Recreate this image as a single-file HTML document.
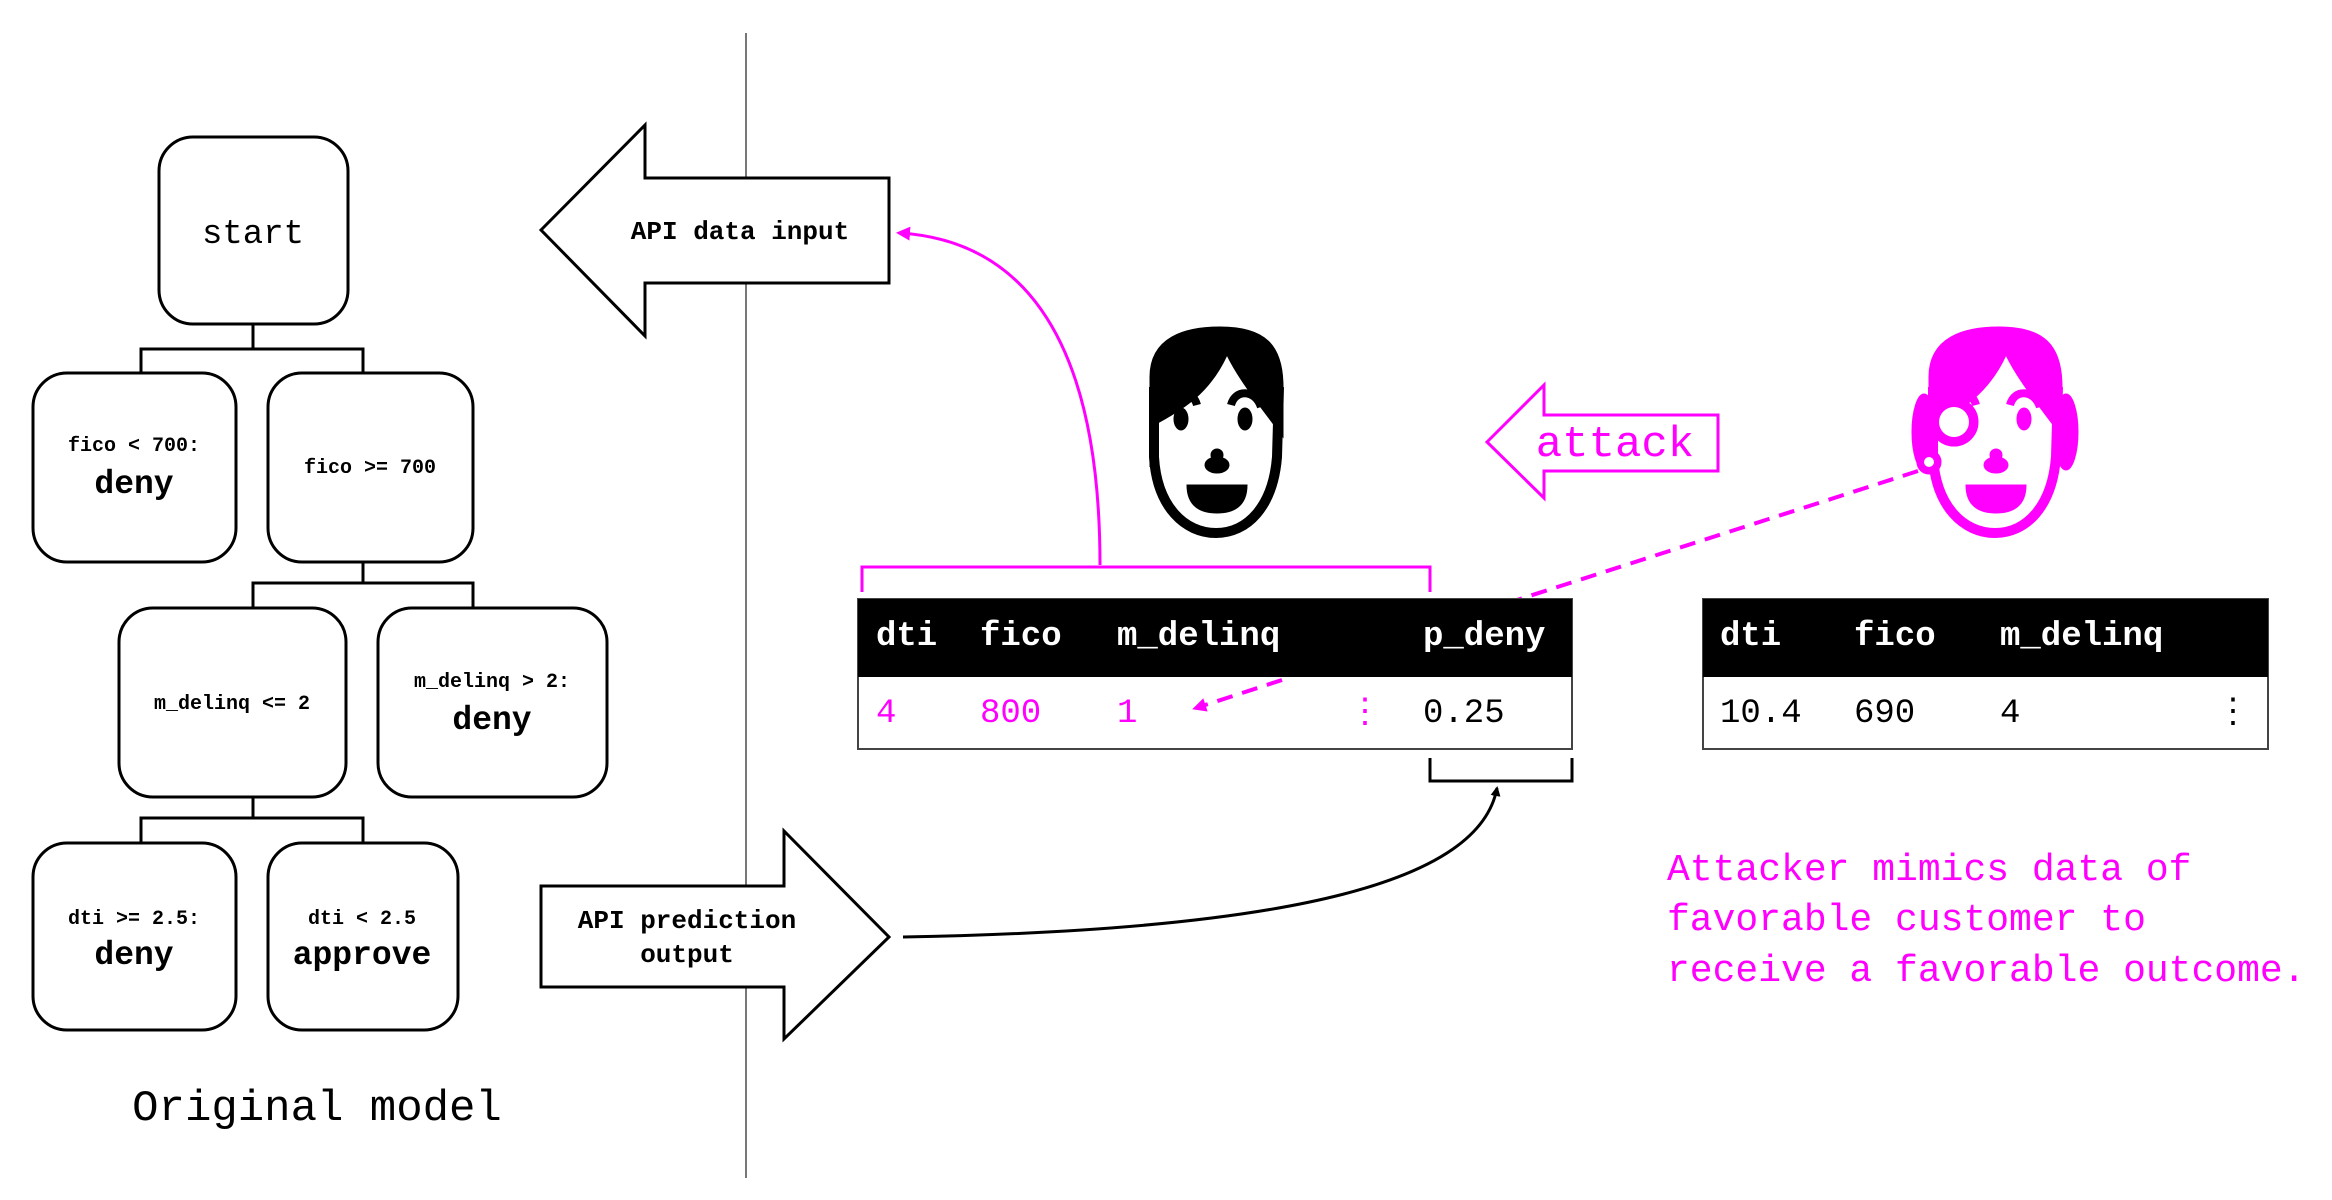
<!DOCTYPE html>
<html><head><meta charset="utf-8"><style>
html,body{margin:0;padding:0;background:#fff;width:2332px;height:1200px;overflow:hidden}
svg text{font-family:"Liberation Mono","DejaVu Sans Mono",monospace}
</style></head><body>
<svg width="2332" height="1200" viewBox="0 0 2332 1200" xmlns="http://www.w3.org/2000/svg">
<defs>
<marker id="ah" markerWidth="10" markerHeight="10" refX="8" refY="5" orient="auto" markerUnits="userSpaceOnUse" viewBox="0 0 10 10"><path d="M0,0 L10,5 L0,10 Z" fill="#000"/></marker>
<marker id="ahm" markerWidth="14" markerHeight="14" refX="10" refY="7" orient="auto" markerUnits="userSpaceOnUse" viewBox="0 0 14 14"><path d="M0,0 L14,7 L0,14 Z" fill="#f0f"/></marker>
<g id="face">
<path d="M5,140 L5,50 C5,10 40,0 75,0 C120,0 138,18 138,60 L138,110 C120,85 95,55 82,28 C65,65 40,82 5,100 Z"/>
<path d="M9,60 L9,130 C12,180 40,206 71,206 C102,206 128,180 132,130 L134,60" fill="none" stroke-width="10"/>
<path d="M22,80 C28,62 48,62 52,78" fill="none" stroke-width="8"/>
<path d="M86,78 C90,62 110,62 116,80" fill="none" stroke-width="8"/>
<ellipse cx="36" cy="92" rx="7" ry="11"/>
<ellipse cx="100" cy="92" rx="7" ry="11"/>
<ellipse cx="72" cy="138" rx="12" ry="8"/><circle cx="72" cy="128" r="6"/>
<path d="M42,158 L102,158 C102,178 90,186 72,186 C54,186 42,178 42,158 Z"/>
</g>
</defs>

<line x1="746" y1="33" x2="746" y2="1178" stroke="#777" stroke-width="2"/>

<g fill="#fff" stroke="#000" stroke-width="3">
<rect x="159" y="137" width="189" height="187" rx="34"/>
<rect x="33" y="373" width="203" height="189" rx="34"/>
<rect x="268" y="373" width="205" height="189" rx="34"/>
<rect x="119" y="608" width="227" height="189" rx="34"/>
<rect x="378" y="608" width="229" height="189" rx="34"/>
<rect x="33" y="843" width="203" height="187" rx="34"/>
<rect x="268" y="843" width="190" height="187" rx="34"/>
</g>
<g fill="none" stroke="#000" stroke-width="3">
<path d="M253,324 V349 M141,373 V349 H363 V373"/>
<path d="M363,562 V583 M253,608 V583 H473 V608"/>
<path d="M253,797 V818 M141,843 V818 H363 V843"/>
</g>
<g text-anchor="middle" font-weight="bold">
<text x="253" y="243" font-size="34" font-weight="normal">start</text>
<text x="134" y="451" font-size="20">fico &lt; 700:</text>
<text x="134" y="493" font-size="33">deny</text>
<text x="370" y="473" font-size="20">fico &gt;= 700</text>
<text x="232" y="709" font-size="20">m_delinq &lt;= 2</text>
<text x="492" y="687" font-size="20">m_delinq &gt; 2:</text>
<text x="492" y="729" font-size="33">deny</text>
<text x="134" y="924" font-size="20">dti &gt;= 2.5:</text>
<text x="134" y="964" font-size="33">deny</text>
<text x="362" y="924" font-size="20">dti &lt; 2.5</text>
<text x="362" y="964" font-size="33">approve</text>
</g>
<text x="317" y="1120" font-size="44" text-anchor="middle">Original model</text>

<path d="M541,230 L645,125 L645,178 L889,178 L889,283 L645,283 L645,336 Z" fill="#fff" stroke="#000" stroke-width="3"/>
<text x="740" y="239" font-size="26" font-weight="bold" text-anchor="middle">API data input</text>
<path d="M541,886 L784,886 L784,831 L889,937 L784,1039 L784,987 L541,987 Z" fill="#fff" stroke="#000" stroke-width="3"/>
<text x="687" y="928" font-size="26" font-weight="bold" text-anchor="middle">API prediction</text>
<text x="687" y="962" font-size="26" font-weight="bold" text-anchor="middle">output</text>

<path d="M1100,565 C1100,320 1010,240 900,233" fill="none" stroke="#f0f" stroke-width="3" marker-end="url(#ahm)"/>
<path d="M862,592 V567 H1430 V592" fill="none" stroke="#f0f" stroke-width="3"/>

<path d="M1487,442 L1544,385 L1544,415 L1718,415 L1718,471 L1544,471 L1544,498 Z" fill="#fff" stroke="#f0f" stroke-width="3"/>
<text x="1615" y="456" font-size="44" fill="#f0f" text-anchor="middle">attack</text>

<g transform="translate(1145,327)" fill="#000" stroke="#000"><use href="#face"/></g>
<g transform="translate(1924,327)" fill="#f0f" stroke="#f0f"><use href="#face"/>
<ellipse cx="0" cy="105" rx="12" ry="38"/><ellipse cx="142" cy="105" rx="12" ry="38"/>
<circle cx="30" cy="95" r="24" fill="#f0f"/><circle cx="30" cy="95" r="15" fill="#fff" stroke="none"/>
<circle cx="5" cy="135" r="12"/><circle cx="5" cy="135" r="5" fill="#fff" stroke="none"/>
</g>

<line x1="1918" y1="471" x2="1517" y2="600" stroke="#f0f" stroke-width="4" stroke-dasharray="16,10"/>

<rect x="858" y="599" width="714" height="150" fill="#fff" stroke="#444" stroke-width="2"/>
<rect x="858" y="599" width="714" height="78" fill="#000"/>
<g font-size="34" font-weight="bold" fill="#fff"><text x="876" y="645">dti</text><text x="980" y="645">fico</text><text x="1117" y="645">m_delinq</text><text x="1423" y="645">p_deny</text></g>
<g font-size="34" fill="#f0f"><text x="876" y="722">4</text><text x="980" y="722">800</text><text x="1117" y="722">1</text><text x="1348" y="722">⋮</text></g>
<text x="1423" y="722" font-size="34">0.25</text>
<line x1="1282" y1="680" x2="1196" y2="708" stroke="#f0f" stroke-width="4" stroke-dasharray="16,10" marker-end="url(#ahm)"/>

<rect x="1703" y="599" width="565" height="150" fill="#fff" stroke="#444" stroke-width="2"/>
<rect x="1703" y="599" width="565" height="78" fill="#000"/>
<g font-size="34" font-weight="bold" fill="#fff"><text x="1720" y="645">dti</text><text x="1854" y="645">fico</text><text x="2000" y="645">m_delinq</text></g>
<g font-size="34"><text x="1720" y="722">10.4</text><text x="1854" y="722">690</text><text x="2000" y="722">4</text><text x="2216" y="722">⋮</text></g>

<path d="M1430,758 V781 H1572 V758" fill="none" stroke="#000" stroke-width="3"/>
<path d="M903,937 C1300,930 1480,880 1497,788" fill="none" stroke="#000" stroke-width="3" marker-end="url(#ah)"/>

<g font-size="38" fill="#f0f"><text x="1667" y="880">Attacker mimics data of</text><text x="1667" y="930">favorable customer to</text><text x="1667" y="981">receive a favorable outcome.</text></g>
</svg>
</body></html>
